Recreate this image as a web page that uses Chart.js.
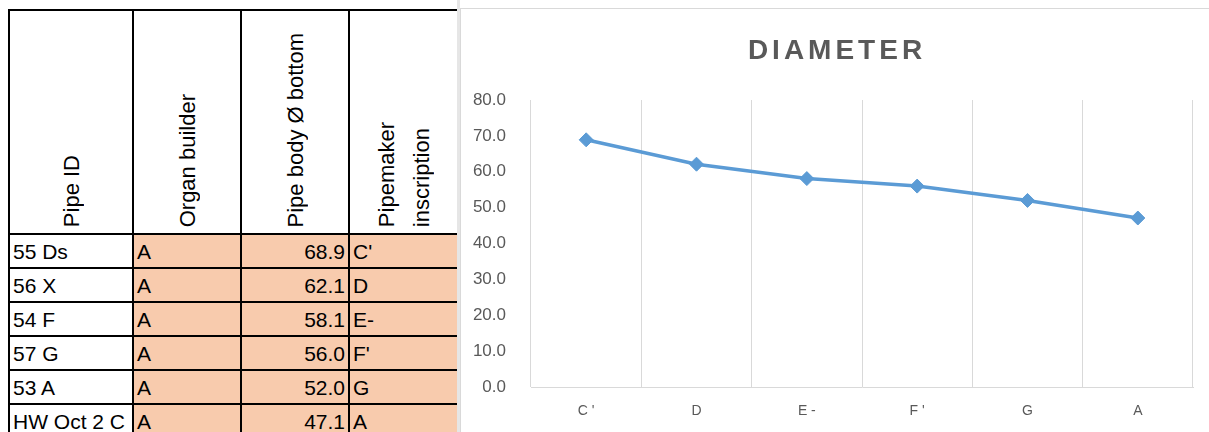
<!DOCTYPE html>
<html>
<head>
<meta charset="utf-8">
<script src="https://cdn.jsdelivr.net/npm/chart.js@4/dist/chart.umd.min.js"></script>
<style>
    html, body { margin: 0; padding: 0; background: #fff; overflow: hidden; }
    body { width: 1209px; height: 432px; position: relative; font-family: "Liberation Sans", Arial, sans-serif; }

    #sheet {
        position: absolute; left: 8px; top: 9px;
        border-collapse: collapse; table-layout: fixed;
        font-size: 21px; color: #000;
    }
    #sheet td, #sheet th { border: 2px solid #000; padding: 0 3px; overflow: hidden; white-space: nowrap; }
    #sheet th { height: 216px; font-weight: normal; font-size: 22px; vertical-align: bottom; padding-bottom: 6px; }
    #sheet th div {
        writing-mode: vertical-rl; transform: rotate(180deg);
        margin: 0 auto; line-height: 35px; text-align: left;
    }
    #sheet td { height: 31px; line-height: 28px; vertical-align: bottom; padding-bottom: 1px; }
    #sheet td.fill { background: #F8CBAD; }
    #sheet td.num { text-align: right; }
    #sheetEdge { position: absolute; left: 457px; top: 0; width: 3px; height: 432px; background: #E6E6E6; }

    #chartBox {
        position: absolute; left: 460px; top: 8px; width: 749px; height: 430px;
        border-left: 1px solid #D9D9D9; border-top: 1px solid #D9D9D9; box-sizing: border-box;
        background: #fff;
    }
    #chartTitle {
        position: absolute; left: 0; right: 0; top: 25px; text-align: center;
        font-family: "Liberation Sans", Arial, sans-serif; font-weight: bold;
        font-size: 28px; letter-spacing: 4px; color: #595959; padding-left: 4px;
    }
    #chartWrap { position: absolute; left: 0; top: 0; width: 748px; height: 423px; }
</style>
</head>
<body>
<table id="sheet">
    <colgroup>
        <col style="width:124px"><col style="width:108px"><col style="width:108px"><col style="width:109px">
    </colgroup>
    <thead><tr id="headRow"></tr></thead>
    <tbody id="sheetBody"></tbody>
</table>
<div id="sheetEdge"></div>

<div id="chartBox">
    <div id="chartWrap"><canvas id="diameter-chart"></canvas></div>
    <div id="chartTitle">DIAMETER</div>
</div>

<script>
const columnHeads = ['Pipe ID', 'Organ builder', 'Pipe body Ø bottom', 'Pipemaker<br>inscription'];
const pipeIds = ['55 Ds', '56 X', '54 F', '57 G', '53 A', 'HW Oct 2 C'];
const organBuilders = ['A', 'A', 'A', 'A', 'A', 'A'];
const inscriptions = ["C'", 'D', 'E-', "F'", 'G', 'A'];
const diameters = [68.9, 62.1, 58.1, 56.0, 52.0, 47.1];
const yTicks = [0, 10, 20, 30, 40, 50, 60, 70, 80];

// spreadsheet part
const headRow = document.getElementById('headRow');
columnHeads.forEach(text => {
    const th = document.createElement('th');
    const div = document.createElement('div');
    div.innerHTML = text;
    th.appendChild(div);
    headRow.appendChild(th);
});

const sheetBody = document.getElementById('sheetBody');
pipeIds.forEach((id, i) => {
    const tr = document.createElement('tr');
    tr.innerHTML =
        '<td>' + id + '</td>' +
        '<td class="fill">' + organBuilders[i] + '</td>' +
        '<td class="fill num">' + diameters[i].toFixed(1) + '</td>' +
        '<td class="fill">' + inscriptions[i] + '</td>';
    sheetBody.appendChild(tr);
});

// chart part: x labels are spaced out like the spreadsheet axis
const axisLabels = inscriptions.map(s => s.split('').join(' '));

const ctx = document.getElementById('diameter-chart').getContext('2d');
new Chart(ctx, {
    type: 'line',
    data: {
        labels: axisLabels,
        datasets: [{
            label: 'Diameter',
            data: diameters,
            borderColor: '#5B9BD5',
            backgroundColor: '#5B9BD5',
            borderWidth: 3.5,
            pointStyle: 'rectRot',
            pointRadius: 7,
            pointHoverRadius: 7,
            pointBorderWidth: 1,
            tension: 0
        }]
    },
    options: {
        responsive: true,
        maintainAspectRatio: false,
        animation: false,
        layout: { padding: { left: 0, right: 16, top: 91, bottom: 0 } },
        plugins: {
            legend: { display: false },
            title: { display: false },
            tooltip: { enabled: false }
        },
        scales: {
            x: {
                offset: true,
                grid: { offset: true, color: '#D9D9D9', lineWidth: 1, drawTicks: false },
                border: { color: '#D9D9D9', width: 1 },
                ticks: {
                    color: '#595959', padding: 16,
                    font: { family: '"Liberation Sans", Arial, sans-serif', size: 14 }
                },
                afterFit: scale => { scale.height = 45; }
            },
            y: {
                min: 0,
                max: 80,
                afterBuildTicks: scale => { scale.ticks = yTicks.map(v => ({ value: v })); },
                grid: { display: false },
                border: { display: false },
                ticks: {
                    color: '#595959', padding: 17,
                    font: { family: '"Liberation Sans", Arial, sans-serif', size: 17 },
                    callback: v => Number(v).toFixed(1)
                },
                afterFit: scale => { scale.width = 70; }
            }
        }
    }
});
</script>
</body>
</html>
